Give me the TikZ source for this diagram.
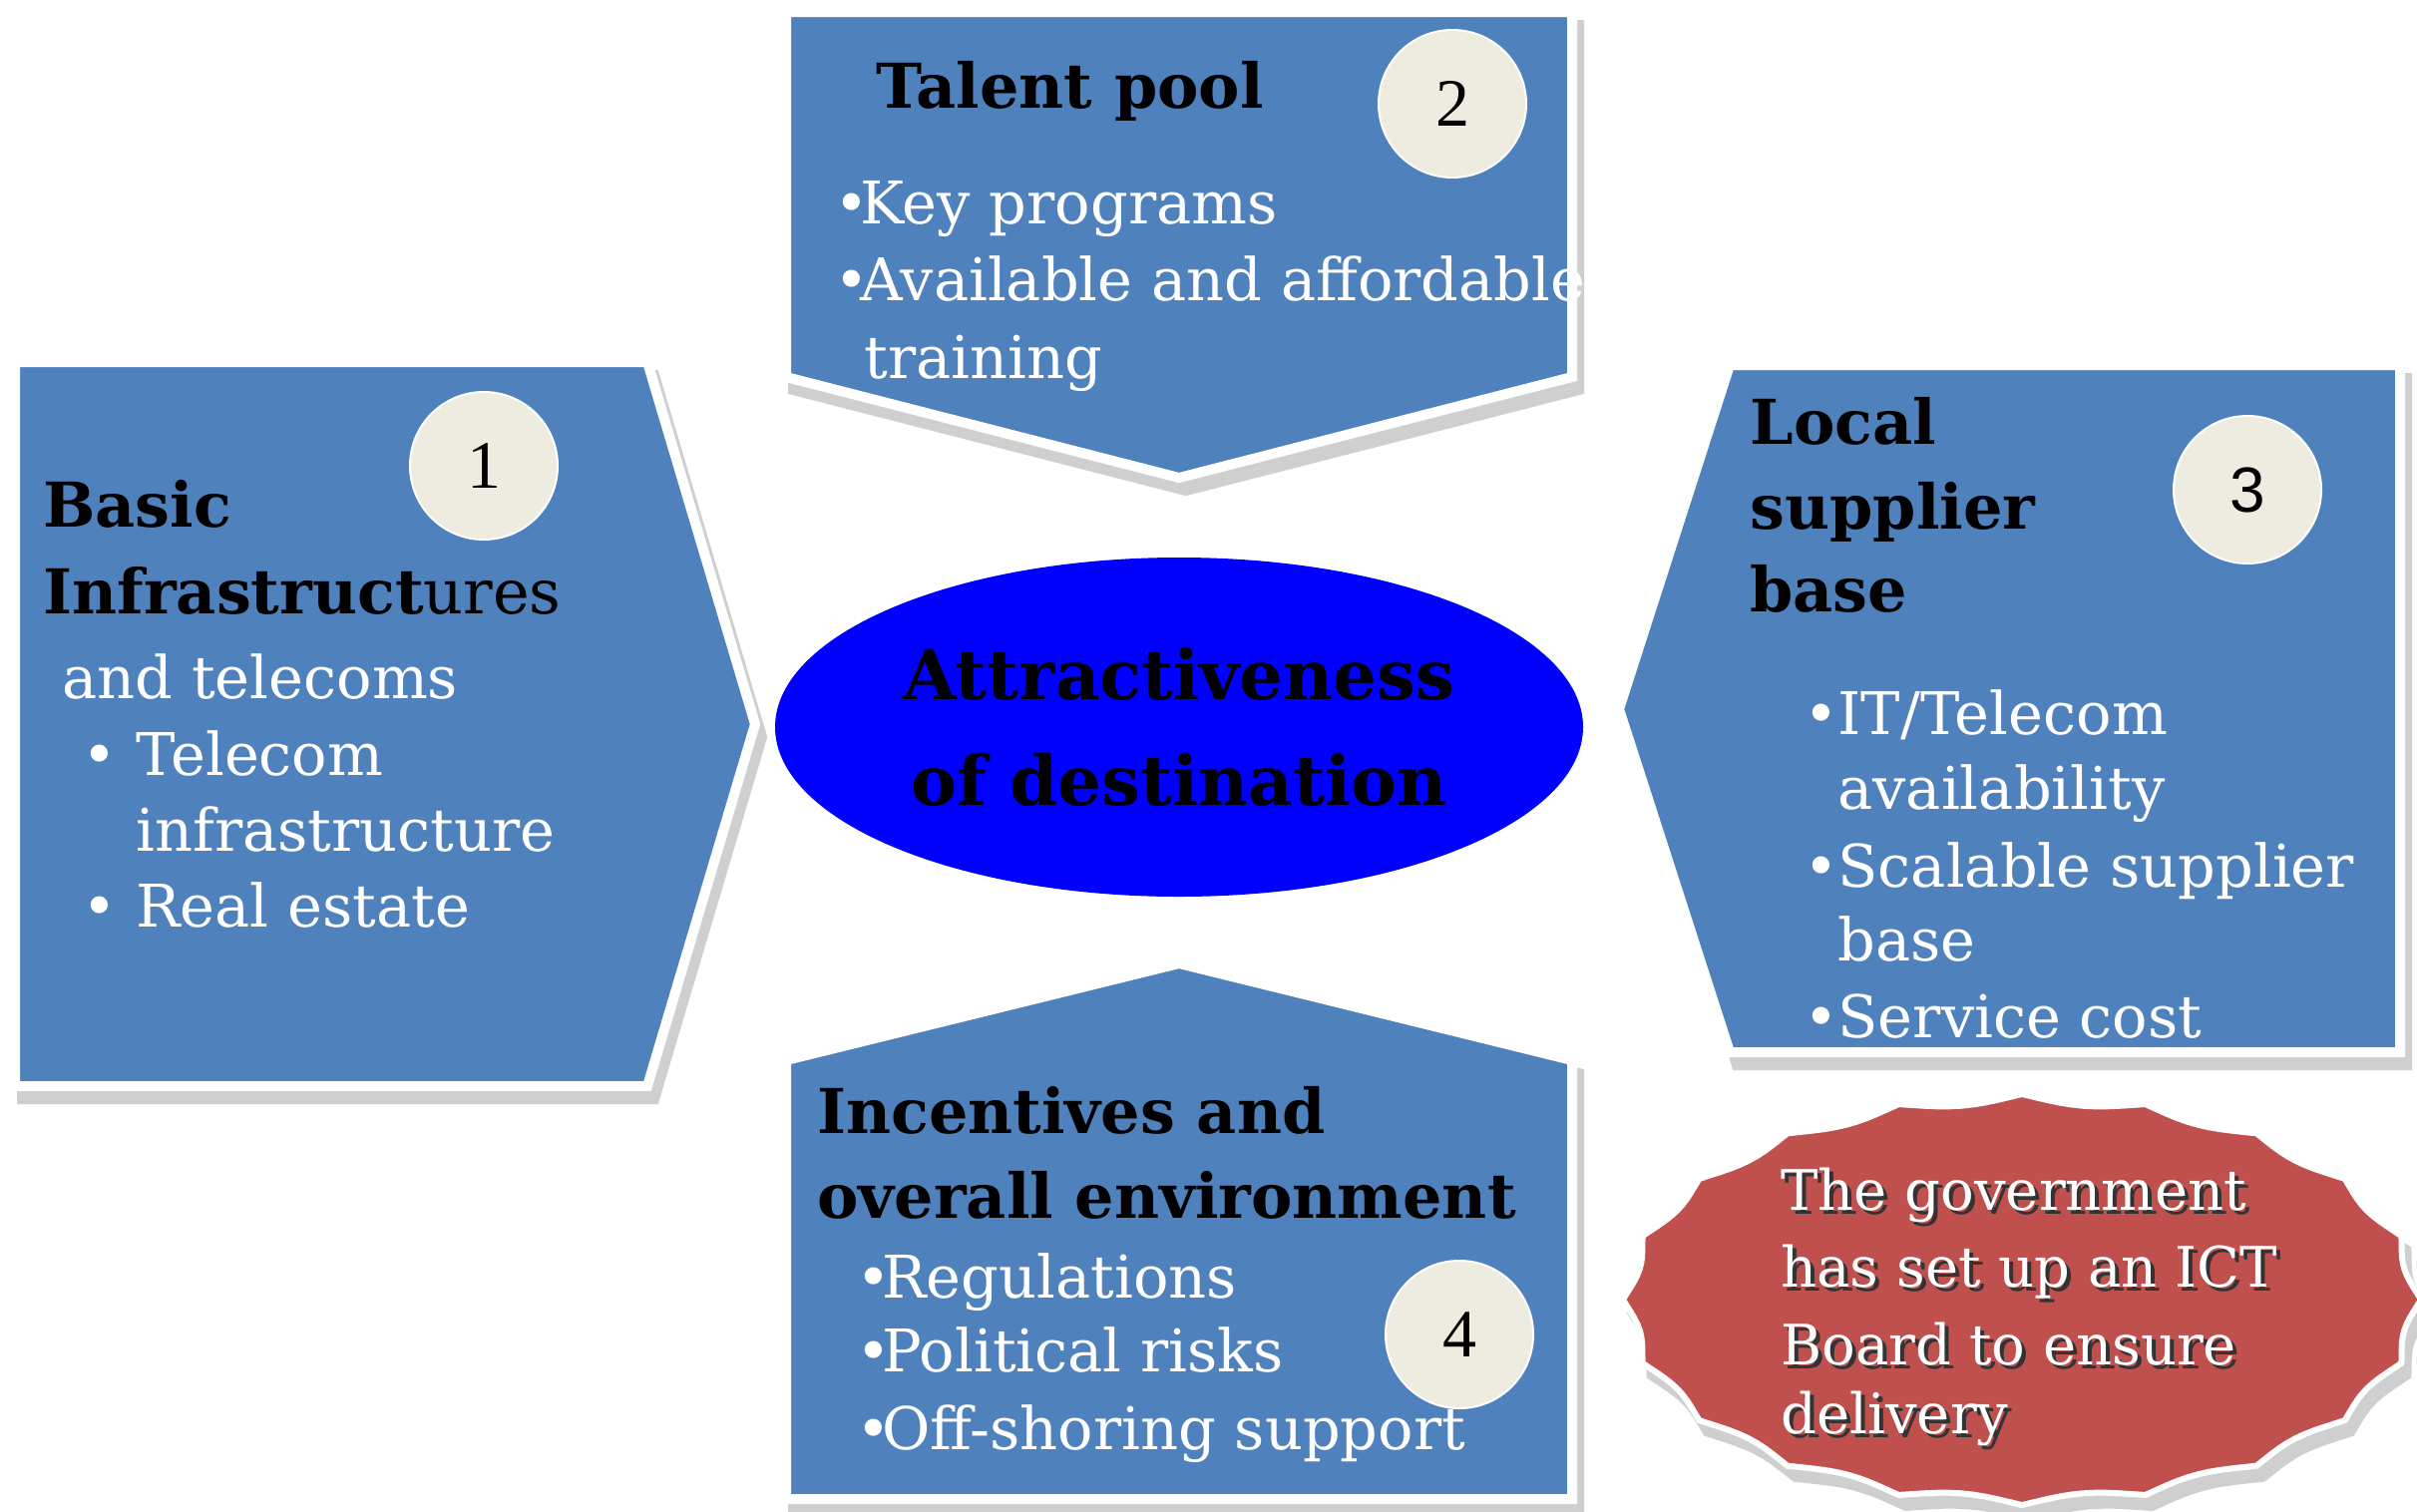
\documentclass[tikz,border=0pt]{standalone}
\usepackage{fontspec}
\setmainfont{DejaVu Serif}
\newfontfamily\numsans{Liberation Sans}
\newfontfamily\numserif{Liberation Serif}
\usetikzlibrary{shapes.geometric}

\definecolor{panelblue}{HTML}{4F81BD}
\definecolor{badgecream}{HTML}{EEECE1}
\definecolor{burstred}{HTML}{C0504D}
\definecolor{coreblue}{HTML}{0000FF}
\definecolor{dropgray}{HTML}{CFCFCF}

% outlines of the four panels (pixel grid, y downwards)
\newcommand{\pathL}{(15,363) -- (649,363) -- (757,726) -- (649,1089) -- (15,1089) -- cycle}
\newcommand{\pathT}{(788,12) -- (1576,12) -- (1576,378) -- (1182,479) -- (788,378) -- cycle}
\newcommand{\pathR}{(1734,366) -- (2406,366) -- (2406,1055) -- (1734,1055) -- (1623,711) -- cycle}
\newcommand{\pathB}{(1182,966) -- (1576,1063) -- (1576,1503) -- (788,1503) -- (788,1063) -- cycle}
% scalloped seal outline
\newcommand{\pathS}{plot[domain=0:360, samples=201, variable=\t]
  ({2027+400*(1-0.03*abs(sin(10*\t)))*cos(\t)}, {1303+206*(1-0.045*abs(sin(10*\t)))*sin(\t)}) -- cycle}

\newcommand{\bul}[1]{\makebox[#1][l]{\textbullet}}

\tikzset{
  panel/.style={fill=panelblue, draw=white, line width=5pt, line join=miter},
  dropshadow/.style={fill=dropgray, draw=dropgray, line width=5pt, line join=miter},
  badge/.style={circle, fill=badgecream, draw=white, line width=1pt,
    minimum size=74pt, inner sep=0pt, font=\numserif\fontsize{34}{34}\selectfont},
  head/.style={anchor=base west, inner sep=0pt, text=black,
    font=\bfseries\fontsize{31}{31}\selectfont},
  item/.style={anchor=base west, inner sep=0pt, text=white,
    font=\fontsize{29.5}{29.5}\selectfont},
  note/.style={anchor=base west, inner sep=0pt, text=white,
    font=\fontsize{28}{28}\selectfont},
  noteshade/.style={note, text=black!80},
}

\begin{document}
\begin{tikzpicture}[x=0.5pt, y=-0.5pt]
  \useasboundingbox (0,0) rectangle (2423,1515);
  \fill[white] (0,0) rectangle (2423,1515);

  % drop shadows
  \begin{scope}[shift={(7,13)}]
    \path[dropshadow] \pathL;
    \path[dropshadow] \pathT;
    \path[dropshadow] \pathR;
    \path[dropshadow] \pathB;
    \path[dropshadow, line width=3pt] \pathS;
  \end{scope}

  % panels
  \path[panel] \pathL;
  \path[panel] \pathT;
  \path[panel] \pathR;
  \path[panel] \pathB;
  \path[panel, fill=burstred, line width=3pt] \pathS;

  % centre
  \node[ellipse, fill=coreblue, minimum width=405pt, minimum height=170pt,
        inner sep=0pt, align=center, text=black,
        font=\bfseries\fontsize{34.5}{53}\selectfont] (core) at (1182,729)
        {Attractiveness\\of destination};

  % numbered badges
  \node[badge] (n1) at (485,467) {1};
  \node[badge] (n2) at (1456,104) {2};
  \node[badge, font=\numsans\fontsize{32}{32}\selectfont] (n3) at (2253,491) {3};
  \node[badge] (n4) at (1463,1338) {4};

  % 1: basic infrastructures
  \node[head] (l1) at (43,528) {Basic};
  \node[head] (l2) at (43,615) {Infrastruct\mdseries ures};
  \node[item] (l3) at (62,700) {and telecoms};
  \node[item] (l4) at (82,777) {\bul{27pt}Telecom};
  \node[item] (l5) at (136,853) {infrastructure};
  \node[item] (l6) at (82,929) {\bul{27pt}Real estate};

  % 2: talent pool
  \node[head] (t1) at (878,108) {Talent pool};
  \node[item] (t2) at (836,224) {\bul{13pt}Key programs};
  \node[item] (t3) at (836,301) {\bul{13pt}Available and affordable};
  \node[item] (t4) at (866,379) {training};

  % 3: local supplier base
  \node[head] (r1) at (1754,445) {Local};
  \node[head] (r2) at (1754,530) {supplier};
  \node[head] (r3) at (1754,613) {base};
  \node[item] (r4) at (1808,736) {\bul{17pt}IT/Telecom};
  \node[item] (r5) at (1842,811) {availability};
  \node[item] (r6) at (1808,889) {\bul{17pt}Scalable supplier};
  \node[item] (r7) at (1842,963) {base};
  \node[item] (r8) at (1808,1040) {\bul{17pt}Service cost};

  % 4: incentives
  \node[head] (b1) at (819,1136) {Incentives and};
  \node[head] (b2) at (819,1221) {overall environment};
  \node[item] (b3) at (858,1301) {\bul{13pt}Regulations};
  \node[item] (b4) at (858,1375) {\bul{13pt}Political risks};
  \node[item] (b5) at (858,1453) {\bul{13pt}Off-shoring support};

  % seal text, embossed
  \node[noteshade] (g1s) at (1789,1217) {The government};
  \node[noteshade] (g2s) at (1789,1294) {has set up an ICT};
  \node[noteshade] (g3s) at (1789,1372) {Board to ensure};
  \node[noteshade] (g4s) at (1789,1441) {delivery};
  \node[note] (g1) at (1785,1213) {The government};
  \node[note] (g2) at (1785,1290) {has set up an ICT};
  \node[note] (g3) at (1785,1368) {Board to ensure};
  \node[note] (g4) at (1785,1437) {delivery};
\end{tikzpicture}
\end{document}
